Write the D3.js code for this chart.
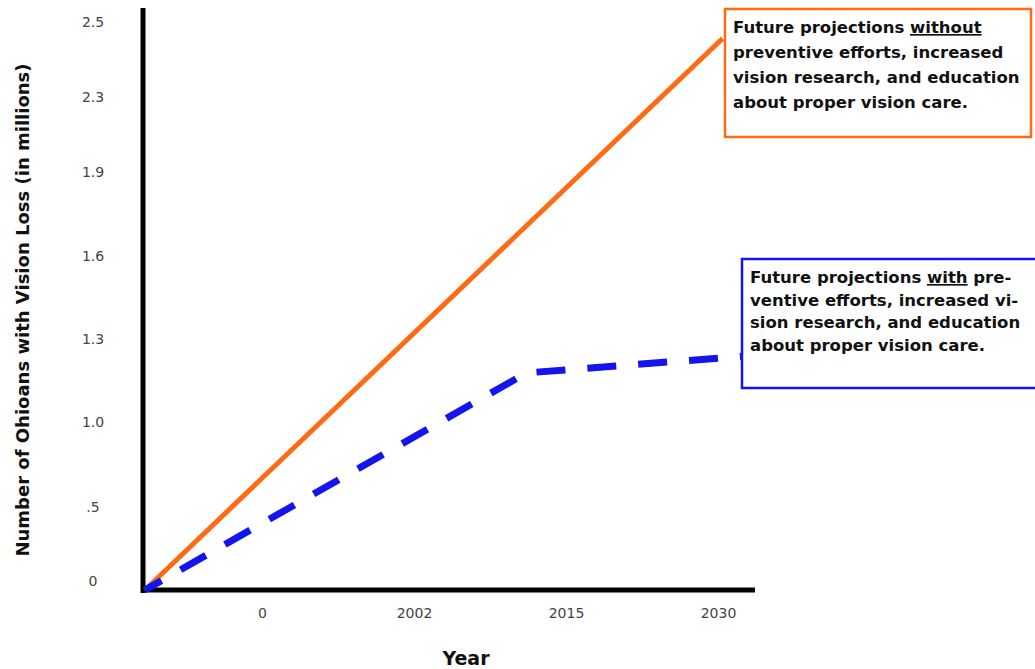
<!DOCTYPE html>
<html>
<head>
<meta charset="utf-8">
<script src="https://cdn.jsdelivr.net/npm/d3@7"></script>
<style>
  body { margin: 0; background: #fff; }
  svg { display: block; }
  .tick text { font-family: "DejaVu Sans", sans-serif; font-size: 14px; fill: #444; }
  .title { font-family: "DejaVu Sans", sans-serif; font-weight: bold; fill: #111; }
  .note { font-family: "DejaVu Sans", sans-serif; font-weight: bold; font-size: 16.5px; fill: #111; }
</style>
</head>
<body>
<div id="chart"></div>
<script>
// data
const yTicks = [0, 0.5, 1.0, 1.3, 1.6, 1.9, 2.3, 2.5];
const yLabels = ["0", ".5", "1.0", "1.3", "1.6", "1.9", "2.3", "2.5"];
const yTickPos = [590, 516, 431, 348, 265, 181, 106, 31]; // label rows as drawn in the original
const xLabels = ["0", "2002", "2015", "2030"]; // tick index 0..3

// x = position along the year ticks, y = millions
const withoutEfforts = [{ x: -0.77, y: 0 }, { x: 3.03, y: 2.48 }];
const withEfforts = [{ x: -0.77, y: 0 }, { x: 1.74, y: 1.21 }, { x: 3.16, y: 1.27 }];

const noteWithout = [["Future projections ", "without", ""], ["preventive efforts, increased"], ["vision research, and education"], ["about proper vision care."]];
const noteWith = [["Future projections ", "with", " pre-"], ["ventive efforts, increased vi-"], ["sion research, and education"], ["about proper vision care."]];

const width = 1035, height = 669;
const svg = d3.select("#chart").append("svg").attr("width", width).attr("height", height);

// scales
const y = d3.scaleLinear().domain(yTicks).range(yTickPos);
const x = d3.scaleLinear().domain([0, 3]).range([262, 718]);

const orange = "#ff6a13";
const blue = "#1414ee";

// axis labels
const yAxis = d3.axisLeft(y)
  .tickValues(yTicks)
  .tickFormat((d, i) => yLabels[i])
  .tickSize(0)
  .tickPadding(0);
svg.append("g")
  .attr("transform", "translate(143,0)")
  .call(yAxis)
  .call(g => g.select(".domain").remove())
  .selectAll("text")
  .attr("x", -50)
  .attr("dy", "-0.3em")
  .attr("text-anchor", "middle");

const xAxis = d3.axisBottom(x)
  .tickValues(d3.range(xLabels.length))
  .tickFormat((d) => xLabels[d])
  .tickSize(0)
  .tickPadding(0);
svg.append("g")
  .attr("transform", "translate(0,589)")
  .call(xAxis)
  .call(g => g.select(".domain").remove())
  .selectAll("text")
  .attr("y", 19);

// axis lines
svg.append("line")
  .attr("x1", 143).attr("x2", 143)
  .attr("y1", 8).attr("y2", y(0) + 3)
  .attr("stroke", "#000").attr("stroke-width", 5);
svg.append("line")
  .attr("x1", 141).attr("x2", 755)
  .attr("y1", y(0)).attr("y2", y(0))
  .attr("stroke", "#000").attr("stroke-width", 5);

// titles
svg.append("text")
  .attr("class", "title")
  .attr("transform", "translate(29,310) rotate(-90)")
  .attr("text-anchor", "middle")
  .style("font-size", "18px")
  .text("Number of Ohioans with Vision Loss (in millions)");

svg.append("text")
  .attr("class", "title")
  .attr("x", 466).attr("y", 665)
  .attr("text-anchor", "middle")
  .style("font-size", "19px")
  .text("Year");

// lines
const line = d3.line().x(d => x(d.x)).y(d => y(d.y));

svg.append("path")
  .datum(withoutEfforts)
  .attr("d", line)
  .attr("fill", "none")
  .attr("stroke", orange)
  .attr("stroke-width", 5);

svg.append("path")
  .datum(withEfforts)
  .attr("d", line)
  .attr("fill", "none")
  .attr("stroke", blue)
  .attr("stroke-width", 7)
  .attr("stroke-dasharray", "29,22")
  .attr("stroke-dashoffset", 10);

// note boxes
function note(lines, color, bx, by, bw, bh, lineH) {
  svg.append("rect")
    .attr("x", bx).attr("y", by)
    .attr("width", bw).attr("height", bh)
    .attr("fill", "#fff")
    .attr("stroke", color)
    .attr("stroke-width", 2.5);
  const t = svg.append("text").attr("class", "note");
  lines.forEach((parts, i) => {
    const row = t.append("tspan").attr("x", bx + 8).attr("y", by + 24 + i * lineH);
    parts.forEach((p, j) => {
      if (!p) return;
      if (j === 0) row.text(p);
      else t.append("tspan").text(p).style("text-decoration", j === 1 ? "underline" : null);
    });
  });
}
note(noteWithout, orange, 725, 9, 306, 128, 25);
note(noteWith, blue, 742, 259, 300, 129, 22.7);
</script>
</body>
</html>
